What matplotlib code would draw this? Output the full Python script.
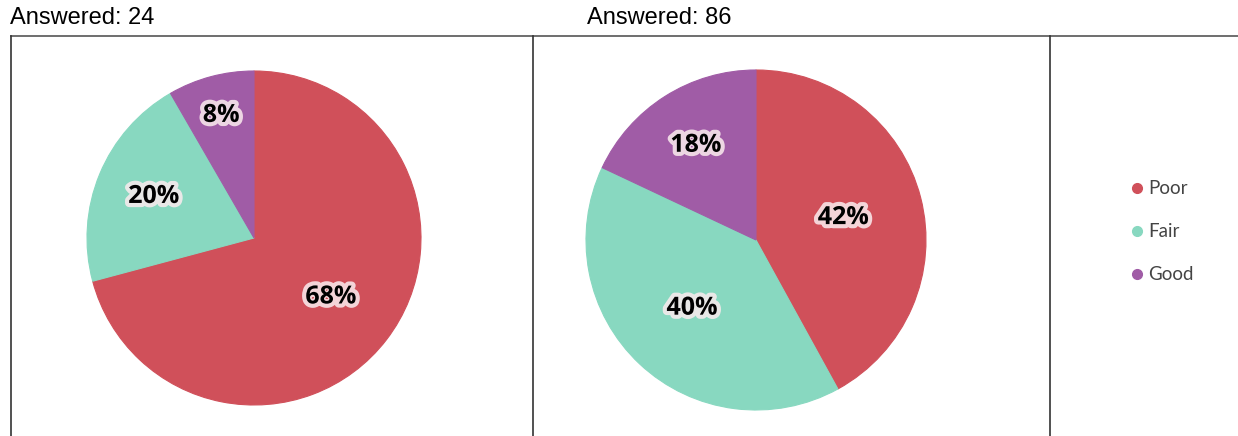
import numpy as np
import matplotlib.pyplot as plt
import matplotlib.patheffects as pe
from matplotlib.lines import Line2D

W, H = 1238, 436

categories = ["Poor", "Fair", "Good"]
colors = ["#D0505A", "#88D8C0", "#A05CA6"]
answered = [24, 86]
pct_left = [68, 20, 8]
pct_right = [42, 40, 18]

# pie placement in pixels: centre x, centre y, radius
pies = [(254, 238, 167, pct_left), (756, 240, 170, pct_right)]
# label distance from centre (fraction of radius), per slice
label_r = [[0.58, 0.65, 0.76], [0.53, 0.55, 0.66]]
title_x = [10, 587]

fig = plt.figure(figsize=(W / 100, H / 100), dpi=100)

glow = [pe.withStroke(linewidth=6, foreground="#fbecef", alpha=0.85)]

for (cx, cy, r, vals), tx, n, lr in zip(pies, title_x, answered, label_r):
    ax = fig.add_axes([(cx - r) / W, (H - cy - r) / H, 2 * r / W, 2 * r / H])
    wedges, _ = ax.pie(vals, colors=colors, startangle=90, counterclock=False,
                       wedgeprops=dict(linewidth=0.8))
    for w, c in zip(wedges, colors):
        w.set_edgecolor(c)
    tot = sum(vals)
    ang0 = 90
    for v, d in zip(vals, lr):
        mid = np.deg2rad(ang0 - v / tot * 360 / 2)
        ang0 -= v / tot * 360
        ax.text(d * np.cos(mid), d * np.sin(mid), f"{v}%", ha="center", va="center",
                fontsize=18, fontweight="bold", family="Open Sans", color="black",
                path_effects=glow)
    ax.set_xlim(-1, 1)
    ax.set_ylim(-1, 1)
    ax.axis("off")
    fig.text(tx / W, 1 - 18 / H, f"Answered: {n}", fontsize=17, family="Liberation Sans",
             ha="left", va="center")

# frame lines
ytop = 1 - 36 / H
fig.add_artist(Line2D([11 / W, 1], [ytop, ytop], color="#555555", lw=1.2))
for x in [11, 533, 1050]:
    fig.add_artist(Line2D([x / W, x / W], [0, ytop], color="#333333", lw=1.2))

# legend
for i, (cat, c) in enumerate(zip(categories, colors)):
    y = 1 - (188 + 43 * i) / H
    fig.add_artist(Line2D([1137 / W], [y], marker="o", markersize=7, color=c, lw=0))
    fig.text(1148 / W, y, cat, fontsize=13.5, family="Lato", color="#444444", va="center")

fig.savefig("out.png", dpi=100)
